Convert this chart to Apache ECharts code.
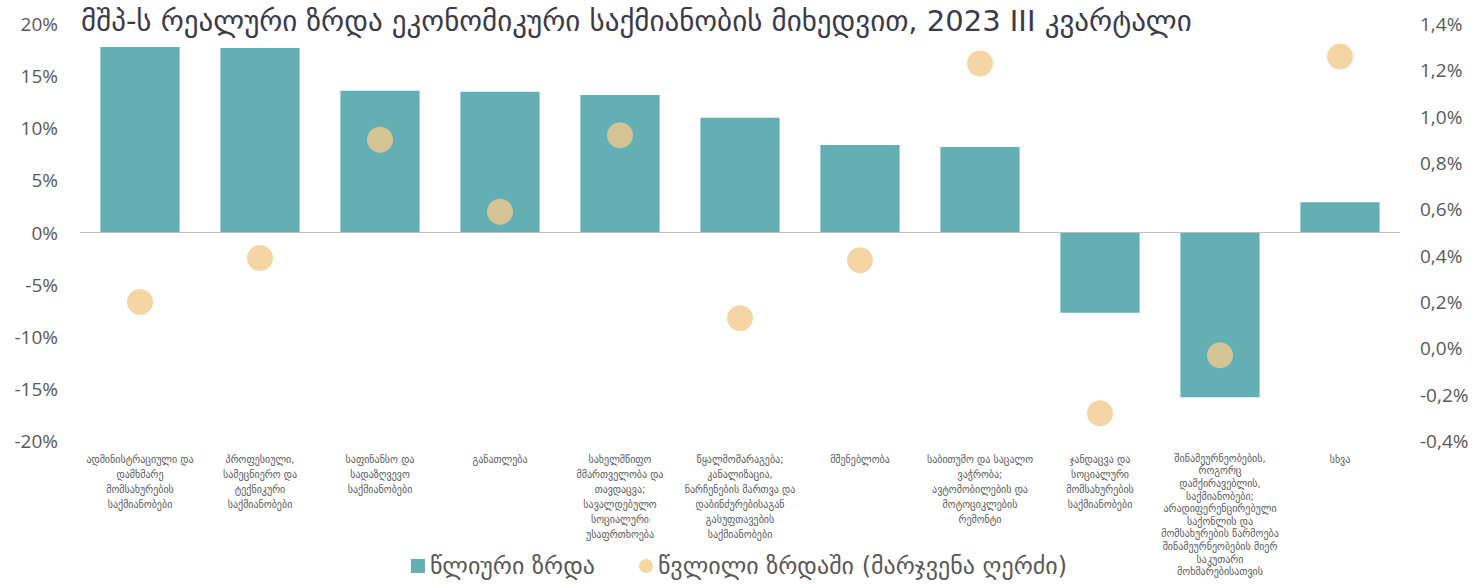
<!DOCTYPE html>
<html>
<head>
<meta charset="utf-8">
<script src="https://cdn.jsdelivr.net/npm/echarts@6/dist/echarts.min.js"></script>
<style>
  html, body { margin: 0; padding: 0; background: #fff; }
  #chart { width: 1478px; height: 585px; }
</style>
</head>
<body>
<div id="chart"></div>
<script>
var categories = [
  'ადმინისტრაციული და\nდამხმარე\nმომსახურების\nსაქმიანობები',
  'პროფესიული,\nსამეცნიერო და\nტექნიკური\nსაქმიანობები',
  'საფინანსო და\nსადაზღვევო\nსაქმიანობები',
  'განათლება',
  'სახელმწიფო\nმმართველობა და\nთავდაცვა;\nსავალდებულო\nსოციალური\nუსაფრთხოება',
  'წყალმომარაგება;\nკანალიზაცია,\nნარჩენების მართვა და\nდაბინძურებისაგან\nგასუფთავების\nსაქმიანობები',
  'მშენებლობა',
  'საბითუმო და საცალო\nვაჭრობა;\nავტომობილების და\nმოტოციკლების\nრემონტი',
  'ჯანდაცვა და\nსოციალური\nმომსახურების\nსაქმიანობები',
  'შინამეურნეობების,\nროგორც\nდამქირავებლის,\nსაქმიანობები;\nარადიფერენცირებული\nსაქონლის და\nმომსახურების წარმოება\nშინამეურნეობების მიერ\nსაკუთარი\nმოხმარებისათვის',
  'სხვა'
];
var annualGrowth = [17.8, 17.7, 13.6, 13.5, 13.2, 11.0, 8.4, 8.2, -7.7, -15.8, 2.9];
var contribution = [0.20, 0.39, 0.90, 0.59, 0.92, 0.13, 0.38, 1.23, -0.28, -0.03, 1.26];
var seriesNames = ['წლიური ზრდა', 'წვლილი ზრდაში (მარჯვენა ღერძი)'];
var titleText = 'მშპ-ს რეალური ზრდა ეკონომიკური საქმიანობის მიხედვით, 2023 III კვარტალი';

var font = "'DejaVu Sans', 'Noto Sans', sans-serif";
var axisFont = "'Open Sans', 'DejaVu Sans', sans-serif";
var grey = '#595959';

// the ten-line label needs tighter spacing to stay inside the canvas
var categoryData = categories.map(function (c) {
  var lines = c.split('\n').length;
  return lines > 8 ? { value: c, textStyle: { lineHeight: 12.6 } } : c;
});

var chart = echarts.init(document.getElementById('chart'), null, { renderer: 'svg' });
chart.setOption({
  animation: false,
  backgroundColor: '#fff',
  title: {
    text: titleText,
    left: 76,
    top: 1,
    textStyle: { fontFamily: font, fontSize: 29, fontWeight: 'normal', color: '#3a3a4a' }
  },
  legend: {
    bottom: 2,
    left: 'center',
    itemGap: 44,
    itemWidth: 14,
    itemHeight: 14,
    textStyle: { fontFamily: font, fontSize: 24, color: grey },
    data: [
      { name: seriesNames[0], icon: 'rect' },
      { name: seriesNames[1], icon: 'circle' }
    ]
  },
  grid: { left: 80, right: 78, top: 24, bottom: 144, outerBoundsMode: 'none' },
  xAxis: {
    type: 'category',
    data: categoryData,
    axisLine: { onZero: false, show: false },
    axisTick: { show: false },
    axisLabel: {
      interval: 0,
      margin: 11,
      fontFamily: font,
      fontSize: 10,
      lineHeight: 15,
      color: grey,
      align: 'center',
      verticalAlign: 'top'
    }
  },
  yAxis: [
    {
      type: 'value',
      min: -20, max: 20, interval: 5,
      splitLine: { show: false },
      axisLine: { show: false },
      axisTick: { show: false },
      axisLabel: {
        formatter: '{value}%',
        fontFamily: axisFont,
        fontSize: 19,
        color: grey,
        margin: 22
      }
    },
    {
      type: 'value',
      min: -0.4, max: 1.4, interval: 0.2,
      splitLine: { show: false },
      axisLine: { show: false },
      axisTick: { show: false },
      axisLabel: {
        formatter: function (v) { return v.toFixed(1).replace('.', ',') + '%'; },
        fontFamily: axisFont,
        fontSize: 19,
        color: grey,
        margin: 20
      }
    }
  ],
  series: [
    {
      name: seriesNames[0],
      type: 'bar',
      yAxisIndex: 0,
      barWidth: '66%',
      itemStyle: { color: '#64afb3' },
      data: annualGrowth,
      markLine: {
        silent: true,
        symbol: 'none',
        label: { show: false },
        lineStyle: { color: '#bfbfbf', width: 1, type: 'solid' },
        data: [{ yAxis: 0 }]
      }
    },
    {
      name: seriesNames[1],
      type: 'scatter',
      yAxisIndex: 1,
      symbol: 'circle',
      symbolSize: 26,
      itemStyle: { color: '#f2cb8c' },
      data: contribution
    }
  ]
});
window.addEventListener('resize', function () { chart.resize(); });
</script>
</body>
</html>
